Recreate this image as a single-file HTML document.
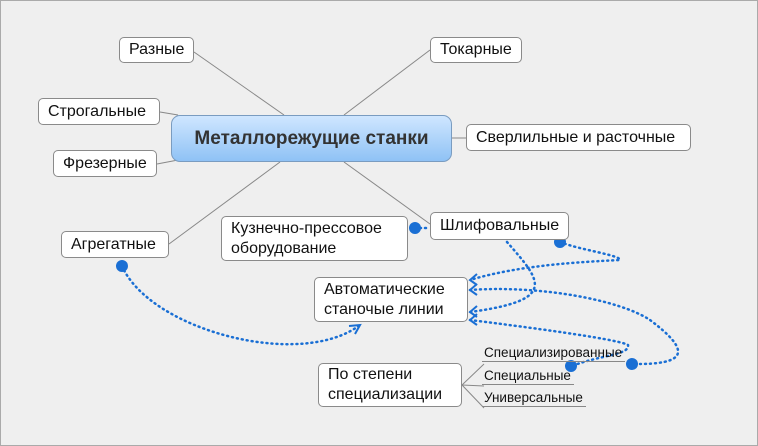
<!DOCTYPE html>
<html><head><meta charset="utf-8"><style>
body{margin:0;width:758px;height:446px;overflow:hidden;background:#efefef;font-family:"Liberation Sans",sans-serif}
.n{position:absolute;background:#fff;border:1px solid #8a8a8a;border-radius:5px;box-sizing:border-box;font-size:16px;color:#111;display:flex;align-items:center;padding-left:9px;line-height:20px;white-space:nowrap}
.c{position:absolute;left:171px;top:115px;width:281px;height:47px;border:1px solid #7a9cc0;border-radius:9px;box-sizing:border-box;background:linear-gradient(#cfe6ff,#8fc2f5);font-weight:bold;font-size:19px;color:#333;display:flex;align-items:center;justify-content:center}
.l{position:absolute;font-size:13.5px;color:#111;border-bottom:1px solid #888;padding:0 3px 1px 2px;white-space:nowrap}
</style></head><body>
<div style="position:absolute;inset:0;border:1px solid #aaa"></div>
<svg width="758" height="446" style="position:absolute;left:0;top:0">
<g stroke="#888" stroke-width="1" fill="none">
<line x1="194" y1="52" x2="284" y2="115"/><line x1="430" y1="50" x2="344" y2="115"/>
<line x1="160" y1="112" x2="178" y2="115"/><line x1="157" y1="164" x2="178" y2="160"/>
<line x1="452" y1="138" x2="466" y2="138"/>
<line x1="169" y1="244" x2="280" y2="162"/><line x1="344" y1="162" x2="430" y2="224"/>
<line x1="462" y1="385" x2="484" y2="364"/><line x1="462" y1="385" x2="484" y2="386"/><line x1="462" y1="385" x2="484" y2="408"/>
</g>
<g stroke="#1a6fd4" stroke-width="2.5" fill="none" stroke-dasharray="1 4" stroke-linecap="round">
<path d="M122 266 C150 330 300 370 360 325"/>
<path d="M560 242 C580 250 620 255 620 260 C580 262 520 265 470 280"/>
<path d="M507 242 C540 280 560 300 470 312"/>
<path d="M470 290 C540 285 620 300 650 320 C690 350 690 365 632 364"/>
<path d="M470 320 C550 330 620 340 628 345 C630 355 600 355 572 366"/>
<path d="M415 228 L430 228"/>
</g>
<g fill="#1a6fd4">
<circle cx="122" cy="266" r="6"/><circle cx="415" cy="228" r="6"/><circle cx="560" cy="242" r="6"/>
<circle cx="571" cy="366" r="6"/><circle cx="632" cy="364" r="6"/>
</g>
<g stroke="#1a6fd4" stroke-width="2" fill="none">
<path d="M477 274 L470 280 L477 285"/><path d="M477 284 L470 290 L477 295"/>
<path d="M477 306 L470 312 L477 317"/><path d="M477 314 L470 320 L477 325"/>
<path d="M349 326 L360 325 L355 334"/>
</g>
</svg>
<div class="c">Металлорежущие станки</div>
<div class="n" style="left:119px;top:37px;width:75px;height:26px">Разные</div>
<div class="n" style="left:430px;top:37px;width:92px;height:26px">Токарные</div>
<div class="n" style="left:38px;top:98px;width:122px;height:27px">Строгальные</div>
<div class="n" style="left:466px;top:124px;width:225px;height:27px">Сверлильные и расточные</div>
<div class="n" style="left:53px;top:150px;width:104px;height:27px">Фрезерные</div>
<div class="n" style="left:61px;top:231px;width:108px;height:27px">Агрегатные</div>
<div class="n" style="left:221px;top:216px;width:187px;height:45px">Кузнечно-прессовое<br>оборудование</div>
<div class="n" style="left:430px;top:212px;width:139px;height:28px">Шлифовальные</div>
<div class="n" style="left:314px;top:277px;width:154px;height:45px">Автоматические<br>станочые линии</div>
<div class="n" style="left:318px;top:363px;width:144px;height:44px">По степени<br>специализации</div>
<div class="l" style="left:482px;top:345px">Специализированные</div>
<div class="l" style="left:482px;top:368px">Специальные</div>
<div class="l" style="left:482px;top:390px">Универсальные</div>
</body></html>
